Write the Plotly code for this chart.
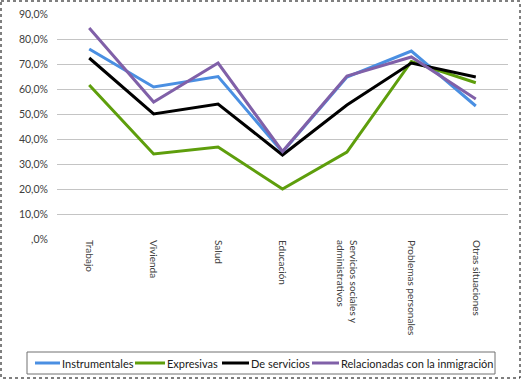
import plotly.graph_objects as go

categories = ["Trabajo", "Vivienda", "Salud", "Educación",
              "Servicios sociales y<br>administrativos", "Problemas personales", "Otras situaciones"]
instrumentales = [0.76, 0.608, 0.65, 0.348, 0.648, 0.752, 0.532]
expresivas = [0.616, 0.34, 0.368, 0.20, 0.348, 0.71, 0.625]
de_servicios = [0.724, 0.50, 0.54, 0.336, 0.536, 0.704, 0.648]
relacionadas = [0.844, 0.548, 0.704, 0.35, 0.652, 0.728, 0.56]

series = [
    ("Instrumentales", instrumentales, "#4A8FE2"),
    ("Expresivas", expresivas, "#5E9E0C"),
    ("De servicios", de_servicios, "#000000"),
    ("Relacionadas con la inmigración", relacionadas, "#8060A8"),
]

tickvals = [i / 10 for i in range(10)]
ticktext = [",0%"] + [f"{i*10},0%" for i in range(1, 10)]
xidx = list(range(len(categories)))

fig = go.Figure()
for name, vals, color in series:
    fig.add_trace(go.Scatter(x=xidx, y=vals, name=name, mode="lines",
                             line=dict(color=color, width=3), showlegend=False))

L, T, W, H = 57, 14, 451, 225
def px(x):
    return (x - L) / W
def py(y):
    return (T + H - y) / H

# outer chart border
fig.add_shape(type="rect", xref="paper", yref="paper",
              x0=px(1), x1=px(520), y0=py(1), y1=py(378),
              line=dict(color="#000000", width=1, dash="dot"))

# legend box (drawn manually to match the compact single-row layout)
fig.add_shape(type="rect", xref="paper", yref="paper",
              x0=px(27), x1=px(495), y0=py(352), y1=py(374),
              line=dict(color="#707070", width=1))
leg_line_x = [(35, 60), (135, 165), (222, 249), (312, 339)]
leg_y = 363
for (name, _, color), (a, b) in zip(series, leg_line_x):
    fig.add_shape(type="line", xref="paper", yref="paper",
                  x0=px(a), x1=px(b), y0=py(leg_y), y1=py(leg_y),
                  line=dict(color=color, width=3))
    fig.add_annotation(text=name, xref="paper", yref="paper",
                       x=px(b + 1), y=py(leg_y), xanchor="left", yanchor="middle",
                       showarrow=False, font=dict(size=11, color="#202020"),
                       borderpad=0)

fig.update_layout(
    width=523, height=381,
    margin=dict(l=L, r=523 - L - W, t=T, b=381 - T - H, autoexpand=False),
    paper_bgcolor="white", plot_bgcolor="white",
    font=dict(family="Lato, Liberation Sans, sans-serif", size=10, color="#404040"),
    showlegend=False,
    xaxis=dict(range=[-0.5, 6.5], tickvals=xidx, ticktext=categories,
               showgrid=False, showline=False, ticks="", tickangle=90,
               tickfont=dict(size=10, color="#404040"), zeroline=False),
    yaxis=dict(range=[0, 0.9], tickvals=tickvals, ticktext=ticktext,
               showgrid=True, gridcolor="#C4C4C4", gridwidth=1, zeroline=False,
               showline=False, ticks="", ticklabelstandoff=8,
               tickfont=dict(size=10.5, color="#404040")),
)
fig.write_html("out.html", config={"displayModeBar": False},
               post_script="document.body.style.margin='0';")
